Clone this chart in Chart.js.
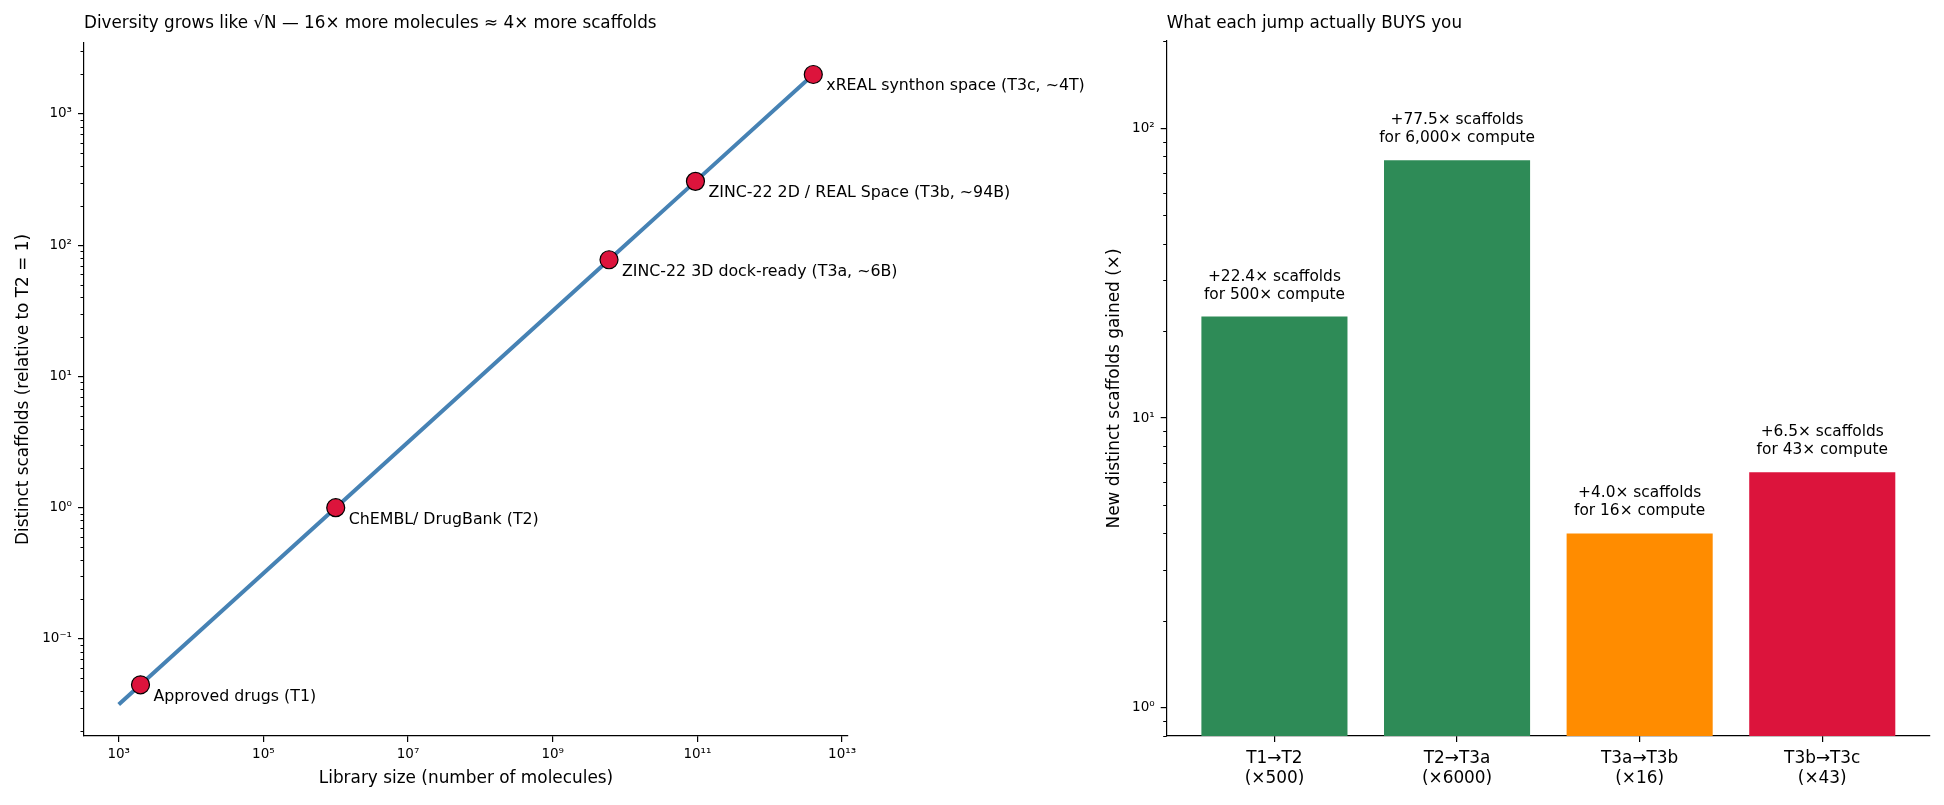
<!DOCTYPE html>
<html>
<head>
<meta charset="utf-8">
<script src="https://cdn.jsdelivr.net/npm/chart.js@4.4.1/dist/chart.umd.min.js"></script>
<style>
  body { margin: 0; background: #fff; }
  #wrap { position: relative; width: 1944px; height: 805px; }
  #left { position: absolute; left: 0; top: 0; }
  #right { position: absolute; left: 1095px; top: 0; }
</style>
</head>
<body>
<div id="wrap">
  <canvas id="left" width="1095" height="805"></canvas>
  <canvas id="right" width="849" height="805"></canvas>
</div>
<script>
// ---- left panel: library size vs distinct scaffolds ----
const libNames = ['Approved drugs (T1)', 'ChEMBL/ DrugBank (T2)', 'ZINC-22 3D dock-ready (T3a, ~6B)',
                  'ZINC-22 2D / REAL Space (T3b, ~94B)', 'xREAL synthon space (T3c, ~4T)'];
const libSizes = [2e3, 1e6, 6e9, 9.4e10, 4e12];
const libScaffolds = [0.0447, 1, 77.5, 306.6, 2000];
// sqrt(N) trend line, starts at 10^3
const trendSizes = [1e3, 2e3, 1e6, 6e9, 9.4e10, 4e12];
const trendScaffolds = [0.0316, 0.0447, 1, 77.5, 306.6, 2000];
const xTicks = [1e3, 1e5, 1e7, 1e9, 1e11, 1e13];
const xTickLabels = ['10³', '10⁵', '10⁷', '10⁹', '10¹¹', '10¹³'];
const yTicks = [0.1, 1, 10, 100, 1000];
const yTickLabels = ['10⁻¹', '10⁰', '10¹', '10²', '10³'];

// ---- right panel: what each jump buys ----
const jumps = [['T1→T2', '(×500)'], ['T2→T3a', '(×6000)'], ['T3a→T3b', '(×16)'], ['T3b→T3c', '(×43)']];
const jumpGain = [22.4, 77.5, 4.0, 6.5];
const jumpNotes = [['+22.4× scaffolds', 'for 500× compute'], ['+77.5× scaffolds', 'for 6,000× compute'],
                   ['+4.0× scaffolds', 'for 16× compute'], ['+6.5× scaffolds', 'for 43× compute']];
const jumpColors = ['#2e8b57', '#2e8b57', '#ff8c00', '#dc143c'];
const barYTicks = [1, 10, 100];
const barYTickLabels = ['10⁰', '10¹', '10²'];

Chart.defaults.font.family = "'DejaVu Sans', sans-serif";
Chart.defaults.color = '#000';

function minorValues(min, max) {
  const out = [];
  for (let e = Math.floor(Math.log10(min)); e <= Math.ceil(Math.log10(max)); e++) {
    for (let m = 2; m <= 9; m++) {
      const v = m * Math.pow(10, e);
      if (v >= min && v <= max) out.push(v);
    }
  }
  return out;
}

function minorTicks(axisId, values) {
  return {
    id: 'minor_' + axisId,
    afterDraw(chart) {
      const s = chart.scales[axisId];
      const ctx = chart.ctx;
      ctx.save();
      ctx.strokeStyle = '#000';
      ctx.lineWidth = 1;
      ctx.beginPath();
      values.forEach(v => {
        const y = Math.round(s.getPixelForValue(v)) + 0.5;
        ctx.moveTo(s.right - 3.5, y);
        ctx.lineTo(s.right, y);
      });
      ctx.stroke();
      ctx.restore();
    }
  };
}

function panelTitle(text) {
  return {
    id: 'panelTitle',
    afterDraw(chart) {
      const ctx = chart.ctx;
      ctx.save();
      ctx.font = "16.8px 'DejaVu Sans'";
      ctx.fillStyle = '#000';
      ctx.textBaseline = 'alphabetic';
      ctx.fillText(text, chart.chartArea.left, 28);
      ctx.restore();
    }
  };
}

const pointLabels = {
  id: 'pointLabels',
  afterDatasetsDraw(chart) {
    const ctx = chart.ctx;
    const meta = chart.getDatasetMeta(0);
    ctx.save();
    ctx.font = "15.8px 'DejaVu Sans'";
    ctx.fillStyle = '#000';
    ctx.textBaseline = 'alphabetic';
    meta.data.forEach((pt, i) => ctx.fillText(libNames[i], pt.x + 13, pt.y + 16));
    ctx.restore();
  }
};

const barNotes = {
  id: 'barNotes',
  afterDatasetsDraw(chart) {
    const ctx = chart.ctx;
    const meta = chart.getDatasetMeta(0);
    ctx.save();
    ctx.font = "15.4px 'DejaVu Sans'";
    ctx.fillStyle = '#000';
    ctx.textAlign = 'center';
    ctx.textBaseline = 'alphabetic';
    meta.data.forEach((bar, i) => {
      ctx.fillText(jumpNotes[i][0], bar.x, bar.y - 36);
      ctx.fillText(jumpNotes[i][1], bar.x, bar.y - 18);
    });
    ctx.restore();
  }
};

const axisLine = { color: '#000', width: 1.2 };
const tickMarks = { drawOnChartArea: false, color: '#000', lineWidth: 1.2, tickLength: 6 };

// left chart
const leftMin = Math.pow(10, -1.74), leftMax = Math.pow(10, 3.541);
new Chart(document.getElementById('left'), {
  type: 'scatter',
  data: {
    datasets: [{
      data: libSizes.map((x, i) => ({ x: x, y: libScaffolds[i] })),
      backgroundColor: '#dc143c',
      borderColor: '#000',
      borderWidth: 1.2,
      pointRadius: 9,
      order: 0
    }, {
      data: trendSizes.map((x, i) => ({ x: x, y: trendScaffolds[i] })),
      showLine: true,
      borderColor: '#4682b4',
      borderWidth: 4,
      pointRadius: 0,
      fill: false,
      order: 1
    }]
  },
  options: {
    responsive: false,
    animation: false,
    events: [],
    layout: { padding: { top: 43, right: 1095 - 848, bottom: 0, left: 0 } },
    plugins: { legend: { display: false }, tooltip: { enabled: false } },
    scales: {
      x: {
        type: 'logarithmic',
        min: Math.pow(10, 2.52), max: Math.pow(10, 13.082),
        bounds: 'data',
        border: axisLine,
        grid: tickMarks,
        afterBuildTicks: s => { s.ticks = xTicks.map(v => ({ value: v })); },
        afterFit: s => { s.height = 805 - 736; },
        ticks: { autoSkip: false, maxRotation: 0, padding: 4, font: { size: 13.5 },
                 callback: (v, i) => xTickLabels[i] },
        title: { display: true, text: 'Library size (number of molecules)', font: { size: 16.9 },
                 padding: { top: 0, bottom: 16 } }
      },
      y: {
        type: 'logarithmic',
        min: leftMin, max: leftMax,
        bounds: 'data',
        border: axisLine,
        grid: tickMarks,
        afterBuildTicks: s => { s.ticks = yTicks.map(v => ({ value: v })); },
        afterFit: s => { s.width = 84; },
        ticks: { autoSkip: false, padding: 6, font: { size: 13.5 },
                 callback: (v, i) => yTickLabels[i] },
        title: { display: true, text: 'Distinct scaffolds (relative to T2 = 1)', font: { size: 16.9 },
                 padding: { top: 13, bottom: 0 } }
      }
    }
  },
  plugins: [pointLabels, minorTicks('y', minorValues(leftMin, leftMax)),
            panelTitle('Diversity grows like √N — 16× more molecules ≈ 4× more scaffolds')]
});

// right chart
new Chart(document.getElementById('right'), {
  type: 'bar',
  data: {
    datasets: [{
      data: jumpGain.map((v, i) => ({ x: i, y: v })),
      backgroundColor: jumpColors,
      barPercentage: 0.8,
      categoryPercentage: 1
    }]
  },
  options: {
    responsive: false,
    animation: false,
    events: [],
    layout: { padding: { top: 41, right: 849 - (1930 - 1095), bottom: 0, left: 0 } },
    plugins: { legend: { display: false }, tooltip: { enabled: false } },
    scales: {
      x: {
        type: 'linear',
        min: -0.59, max: 3.59,
        offset: false,
        border: axisLine,
        grid: Object.assign({ offset: false }, tickMarks),
        afterBuildTicks: s => { s.ticks = jumps.map((j, i) => ({ value: i })); },
        afterFit: s => { s.height = 805 - 736; },
        ticks: { autoSkip: false, maxRotation: 0, padding: 6, font: { size: 16.9 },
                 callback: (v, i) => jumps[i] }
      },
      y: {
        type: 'logarithmic',
        min: 0.8, max: 200,
        bounds: 'data',
        border: axisLine,
        grid: tickMarks,
        afterBuildTicks: s => { s.ticks = barYTicks.map(v => ({ value: v })); },
        afterFit: s => { s.width = 1166.7 - 1095; },
        ticks: { autoSkip: false, padding: 6, font: { size: 13.5 },
                 callback: (v, i) => barYTickLabels[i] },
        title: { display: true, text: 'New distinct scaffolds gained (×)', font: { size: 16.9 },
                 padding: { top: 9, bottom: 0 } }
      }
    }
  },
  plugins: [barNotes, minorTicks('y', minorValues(0.8, 200)), panelTitle('What each jump actually BUYS you')]
});
</script>
</body>
</html>
